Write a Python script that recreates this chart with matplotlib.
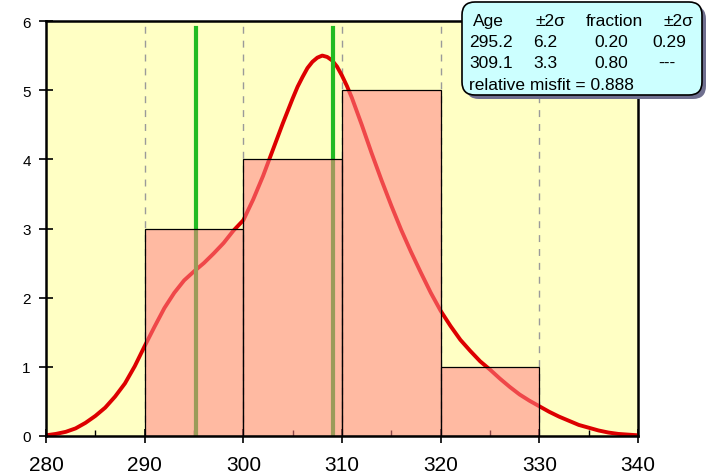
import matplotlib
matplotlib.use("Agg")
import matplotlib.pyplot as plt
from matplotlib.patches import FancyBboxPatch

plt.rcParams["font.family"] = ["Liberation Sans", "DejaVu Sans"]

# histogram of ages (bin edges and counts)
bin_edges = [290, 300, 310, 320, 330]
bin_counts = [3, 4, 5, 1]

# relative probability curve, one value per Ma (half steps around the peak)
curve_age = list(range(280, 306)) + [305.5, 306, 306.5, 307, 307.5, 308,
                                     308.5, 309, 309.5, 310, 310.5] + list(range(311, 341))
curve_prob = [0.01, 0.03, 0.06, 0.11, 0.19, 0.29, 0.41, 0.57, 0.76, 1.01,
              1.30, 1.58, 1.85, 2.07, 2.25, 2.38, 2.50, 2.64, 2.79, 2.97,
              3.12, 3.42, 3.76, 4.14, 4.52, 4.88,
              5.05, 5.19, 5.32, 5.41, 5.47, 5.50, 5.48, 5.43, 5.34, 5.21, 5.06,
              4.89, 4.50, 4.09, 3.70, 3.33, 2.98, 2.66, 2.36, 2.07,
              1.81, 1.59, 1.39, 1.23, 1.08, 0.96, 0.83, 0.71, 0.60, 0.51,
              0.43, 0.35, 0.28, 0.22, 0.16, 0.12, 0.08, 0.05, 0.03, 0.02,
              0.01]

# mixture model components
comp_age = [295.2, 309.1]
comp_height = [5.9, 5.9]

table_header = ["Age", "±2σ", "fraction", "±2σ"]
table_rows = [["295.2", "6.2", "0.20", "0.29"],
              ["309.1", "3.3", "0.80", "---"]]
misfit_text = "relative misfit = 0.888"

x_ticks = [280, 290, 300, 310, 320, 330, 340]
y_ticks = [0, 1, 2, 3, 4, 5, 6]

fig = plt.figure(figsize=(7.09, 4.77), dpi=100)
ax = fig.add_axes([46 / 709, 40 / 477, 592 / 709, 415 / 477])
ax.set_facecolor("#FFFFC4")

# dashed vertical grid
for gx in bin_edges:
    ax.axvline(gx, color="#9a9a9a", lw=1.0, ls=(0, (5, 5)), zorder=1)

ax.plot(curve_age, curve_prob, color="#DD0000", lw=2.8, zorder=2,
        solid_joinstyle="round", solid_capstyle="round")

for a, h in zip(comp_age, comp_height):
    ax.plot([a, a], [0, h], color="#22BB22", lw=3.0, zorder=2)

widths = [b - a for a, b in zip(bin_edges[:-1], bin_edges[1:])]
ax.bar(bin_edges[:-1], bin_counts, width=widths, align="edge",
       color=(1.0, 0.51, 0.53, 0.55), edgecolor="black", lw=0.9, zorder=3)

ax.set_xlim(280, 340)
ax.set_ylim(0, 6)
ax.set_xticks(x_ticks)
ax.set_yticks(y_ticks)
ax.set_xticks([285, 295, 305, 315, 325, 335], minor=True)
ax.tick_params(axis="x", which="major", direction="inout", length=10, width=1.2,
               labelsize=15, pad=9)
ax.tick_params(axis="x", which="minor", direction="in", length=4, width=1.0)
ax.tick_params(axis="y", which="major", direction="inout", length=10, width=1.2,
               labelsize=11, pad=6)
for s in ax.spines.values():
    s.set_linewidth(1.8)
    s.set_zorder(4)

# results box drawn in pixel coordinates
over = fig.add_axes([0, 0, 1, 1])
over.set_xlim(0, 709)
over.set_ylim(477, 0)
over.axis("off")
over.add_patch(FancyBboxPatch((466, 7), 240, 93,
                              boxstyle="round,pad=0,rounding_size=13",
                              fc="#6f6f8f", ec="none"))
over.add_patch(FancyBboxPatch((462, 3), 240, 93,
                              boxstyle="round,pad=0,rounding_size=13",
                              fc="#CCFFFF", ec="black", lw=1.2))

col_x = [473, 535, 586, 664]
for txt, cx in zip(table_header, col_x):
    over.text(cx, 26, txt, fontsize=12.5, va="baseline")
row_x = [469, 533, 594, 652]
for i, row in enumerate(table_rows):
    for j, txt in enumerate(row):
        cx = row_x[j] + (6 if txt == "---" else 0)
        over.text(cx, 47 + 21 * i, txt, fontsize=12.5, va="baseline")
over.text(469, 90, misfit_text, fontsize=12.5, va="baseline")

fig.savefig("out.png", dpi=100)
